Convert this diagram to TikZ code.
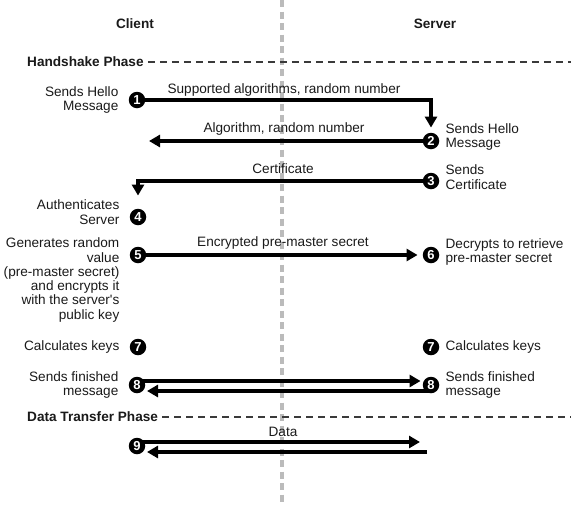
\documentclass[tikz,border=0pt]{standalone}
\usepackage{fontspec}
\setsansfont{Liberation Sans}
\usetikzlibrary{
  arrows.meta,
  backgrounds,
  positioning
}
\definecolor{hsInk}{HTML}{1A1A1A}
\definecolor{hsRule}{HTML}{BBBBBB}
\definecolor{hsDash}{HTML}{3A3A3A}
\tikzset{
  font=\sffamily,
  txt/.style={font=\sffamily\fontsize{13.6}{14.3}\selectfont, text=hsInk, inner sep=0pt},
  lefttxt/.style={txt, align=right},
  righttxt/.style={txt, align=left},
  head/.style={font=\bfseries\sffamily\fontsize{13.6}{14.3}\selectfont, text=hsInk, inner sep=0pt},
  phase/.style={head, anchor=west},
  badge/.style={
    circle,
    fill=black,
    text=white,
    font=\bfseries\sffamily\fontsize{13}{13}\selectfont,
    inner sep=0pt,
    minimum size=16.5pt
  },
  msg/.style={-{Triangle[length=11pt,width=12pt]}, line width=3.1pt, draw=black},
  phaseline/.style={draw=hsDash, line width=1.4pt, dash pattern=on 7pt off 5pt},
  divider/.style={draw=hsRule, line width=3.4pt, dash pattern=on 7pt off 4.5pt}
}

\begin{document}
\begin{tikzpicture}[x=1pt,y=-1pt]
\useasboundingbox (0,0) rectangle (571,504);

% --------------------------------------------------------------------------
% Headings
% --------------------------------------------------------------------------
\node[head] (client) at (135,24) {Client};
\node[head] (server) at (435,24) {Server};

\node[phase] (hs) at (27,62) {Handshake Phase};
\node[phase] (dt) at (27,417) {Data Transfer Phase};

\coordinate (hs_end) at (571,62);
\coordinate (dt_end) at (571,417);
\draw[phaseline] ([xshift=4pt]hs.east) -- (hs_end);
\draw[phaseline] ([xshift=4pt]dt.east) -- (dt_end);

% --------------------------------------------------------------------------
% Steps
% --------------------------------------------------------------------------
\node[badge] (c1) at (137,100) {1};
\node[badge] (c2) at (431,141) {2};
\node[badge] (c3) at (431,181) {3};
\node[badge] (c4) at (138,217) {4};
\node[badge] (c5) at (138,255) {5};
\node[badge] (c6) at (431,255) {6};
\node[badge] (c7l) at (138,347) {7};
\node[badge] (c7r) at (431,347) {7};
\node[badge] (c8l) at (137,385) {8};
\node[badge] (c8r) at (431,385) {8};
\node[badge] (c9) at (137,446) {9};

\node[lefttxt, left=10pt of c1] (t1) {Sends Hello\\Message};
\node[righttxt, right=6pt of c2, yshift=4pt] (t2) {Sends Hello\\Message};
\node[righttxt, right=6pt of c3, yshift=4pt] (t3) {Sends\\Certificate};
\node[lefttxt, left=10pt of c4, yshift=5pt] (t4) {Authenticates\\Server};
\node[lefttxt, left=10pt of c5, yshift=-25pt] (t5) {
  Generates random\\
  value\\
  (pre-master secret)\\
  and encrypts it\\
  with the server\textquotesingle s\\
  public key
};
\node[righttxt, right=6pt of c6, yshift=3pt] (t6) {Decrypts to retrieve\\pre-master secret};
\node[lefttxt, left=10pt of c7l] (t7l) {Calculates keys};
\node[righttxt, right=6pt of c7r] (t7r) {Calculates keys};
\node[lefttxt, left=10pt of c8l] (t8l) {Sends finished\\message};
\node[righttxt, right=6pt of c8r] (t8r) {Sends finished\\message};

% --------------------------------------------------------------------------
% Message labels
% --------------------------------------------------------------------------
\node[txt] (m1) at (284,90) {Supported algorithms, random number};
\node[txt] (m2) at (284,129) {Algorithm, random number};
\node[txt] (m3) at (283,169) {Certificate};
\node[txt] (m5) at (283,243) {Encrypted pre-master secret};
\node[txt] (m9) at (283,432) {Data};

% --------------------------------------------------------------------------
% Connectors
% --------------------------------------------------------------------------
\coordinate (top) at (282,0);
\coordinate (bottom) at (282,504);
\coordinate (m2_end) at (149,141);
\coordinate (d_tip) at (420,442);
\coordinate (d_back) at (427,452);

\begin{scope}[on background layer]
  \draw[divider] (top) -- (bottom);
  \draw[msg] (c1.center) -| ([yshift=5pt]c2.north);
  \draw[msg] (c2.center) -- (m2_end);
  \draw[msg] (c3.center) -| ([yshift=13pt]c4.north);
  \draw[msg] (c5.center) -- ([xshift=-5pt]c6.west);
  \draw[msg] ([yshift=4pt]c8l.center) -- ([yshift=4pt,xshift=-2pt]c8r.west);
  \draw[msg] ([yshift=-6pt]c8r.center) -- ([yshift=-6pt,xshift=10pt]c8l.center);
  \draw[msg] ([yshift=4pt]c9.center) -- (d_tip);
  \draw[msg] (d_back) -- ([yshift=-6pt,xshift=10pt]c9.center);
\end{scope}

\end{tikzpicture}
\end{document}
